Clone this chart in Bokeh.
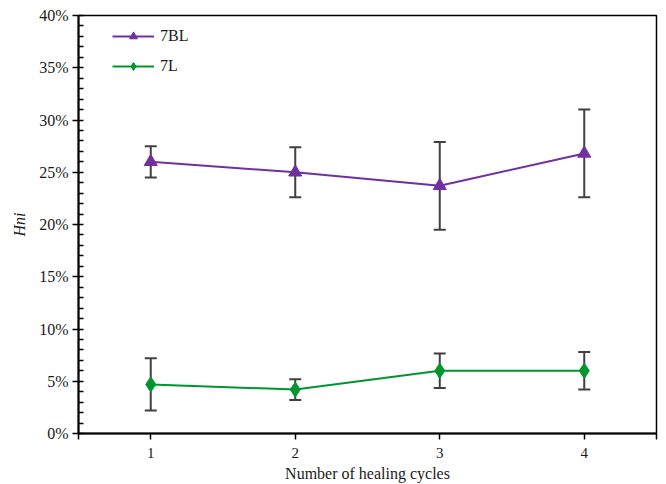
from bokeh.plotting import figure
from bokeh.models import (ColumnDataSource, Whisker, TeeHead, FixedTicker,
                          SingleIntervalTicker, PrintfTickFormatter, Range1d, Legend)
from bokeh.embed import file_html
from bokeh.resources import INLINE

cycles = [1, 2, 3, 4]
bl_vals = [26.0, 25.0, 23.7, 26.8]
bl_err = [1.5, 2.4, 4.2, 4.2]
l_vals = [4.7, 4.2, 6.0, 6.0]
l_err = [2.5, 1.0, 1.65, 1.8]

FONT = "Liberation Serif"
TXT = "#1a1a1a"

p = figure(width=666, height=484, output_backend="svg", toolbar_location=None,
           x_range=Range1d(0.5, 4.5), y_range=Range1d(0, 40),
           min_border_left=78, min_border_right=10, min_border_top=15, min_border_bottom=50)
p.background_fill_color = "white"
p.border_fill_color = "white"
p.outline_line_color = "black"
p.outline_line_width = 1.5
p.grid.visible = False

def series(vals, err, color, marker, size, label):
    src = ColumnDataSource(dict(x=cycles, y=vals,
                                lo=[v - e for v, e in zip(vals, err)],
                                hi=[v + e for v, e in zip(vals, err)]))
    w = Whisker(base="x", upper="hi", lower="lo", source=src,
                line_color="#404040", line_width=2,
                upper_head=TeeHead(size=12, line_color="#404040", line_width=2),
                lower_head=TeeHead(size=12, line_color="#404040", line_width=2))
    p.add_layout(w)
    r1 = p.line("x", "y", source=src, line_color=color, line_width=2)
    r2 = p.scatter("x", "y", source=src, marker=marker, size=size,
                   fill_color=color, line_color=color)
    return (label, [r1, r2])

items = [series(bl_vals, bl_err, "#7030A0", "triangle", 13, "7BL"),
         series(l_vals, l_err, "#00962F", "diamond", 15, "7L")]

legend = Legend(items=items, location=(29, 352), orientation="vertical")
legend.border_line_alpha = 0
legend.background_fill_alpha = 0
legend.label_text_font = FONT
legend.label_text_font_size = "16px"
legend.label_text_color = TXT
legend.glyph_width = 42
legend.glyph_height = 20
legend.spacing = 10
legend.padding = 5
legend.margin = 0
legend.label_standoff = 6
p.add_layout(legend)

# X axis
p.xaxis.ticker = FixedTicker(ticks=[1, 2, 3, 4], minor_ticks=[0.5, 4.5])
p.xaxis.major_tick_out = 6
p.xaxis.major_tick_in = 0
p.xaxis.minor_tick_out = 6
p.xaxis.minor_tick_in = 0
p.xaxis.axis_line_width = 2
p.xaxis.axis_line_color = "black"
p.xaxis.major_tick_line_color = "black"
p.xaxis.minor_tick_line_color = "black"
p.xaxis.major_tick_line_width = 1.5
p.xaxis.minor_tick_line_width = 1.5
p.xaxis.axis_label = "Number of healing cycles"
p.xaxis.axis_label_text_font = FONT
p.xaxis.axis_label_text_font_style = "normal"
p.xaxis.axis_label_text_font_size = "16px"
p.xaxis.axis_label_text_color = TXT
p.xaxis.axis_label_standoff = 4
p.xaxis.major_label_text_font = FONT
p.xaxis.major_label_text_font_size = "15px"
p.xaxis.major_label_text_color = TXT
p.xaxis.major_label_standoff = 8

# Y axis
p.yaxis.ticker = SingleIntervalTicker(interval=5, num_minor_ticks=5)
p.yaxis.formatter = PrintfTickFormatter(format="%d%%")
p.yaxis.major_tick_out = 6
p.yaxis.major_tick_in = 0
p.yaxis.minor_tick_in = 5
p.yaxis.minor_tick_out = 0
p.yaxis.axis_line_width = 2
p.yaxis.axis_line_color = "black"
p.yaxis.major_tick_line_color = "black"
p.yaxis.minor_tick_line_color = "black"
p.yaxis.major_tick_line_width = 1.5
p.yaxis.minor_tick_line_width = 1.5
p.yaxis.axis_label = "Hni"
p.yaxis.axis_label_text_font = FONT
p.yaxis.axis_label_text_font_style = "italic"
p.yaxis.axis_label_text_font_size = "16px"
p.yaxis.axis_label_text_color = TXT
p.yaxis.axis_label_standoff = 8
p.yaxis.major_label_text_font = FONT
p.yaxis.major_label_text_font_size = "16px"
p.yaxis.major_label_text_color = TXT
p.yaxis.major_label_standoff = 4

open("out.html", "w").write(file_html(p, INLINE))
